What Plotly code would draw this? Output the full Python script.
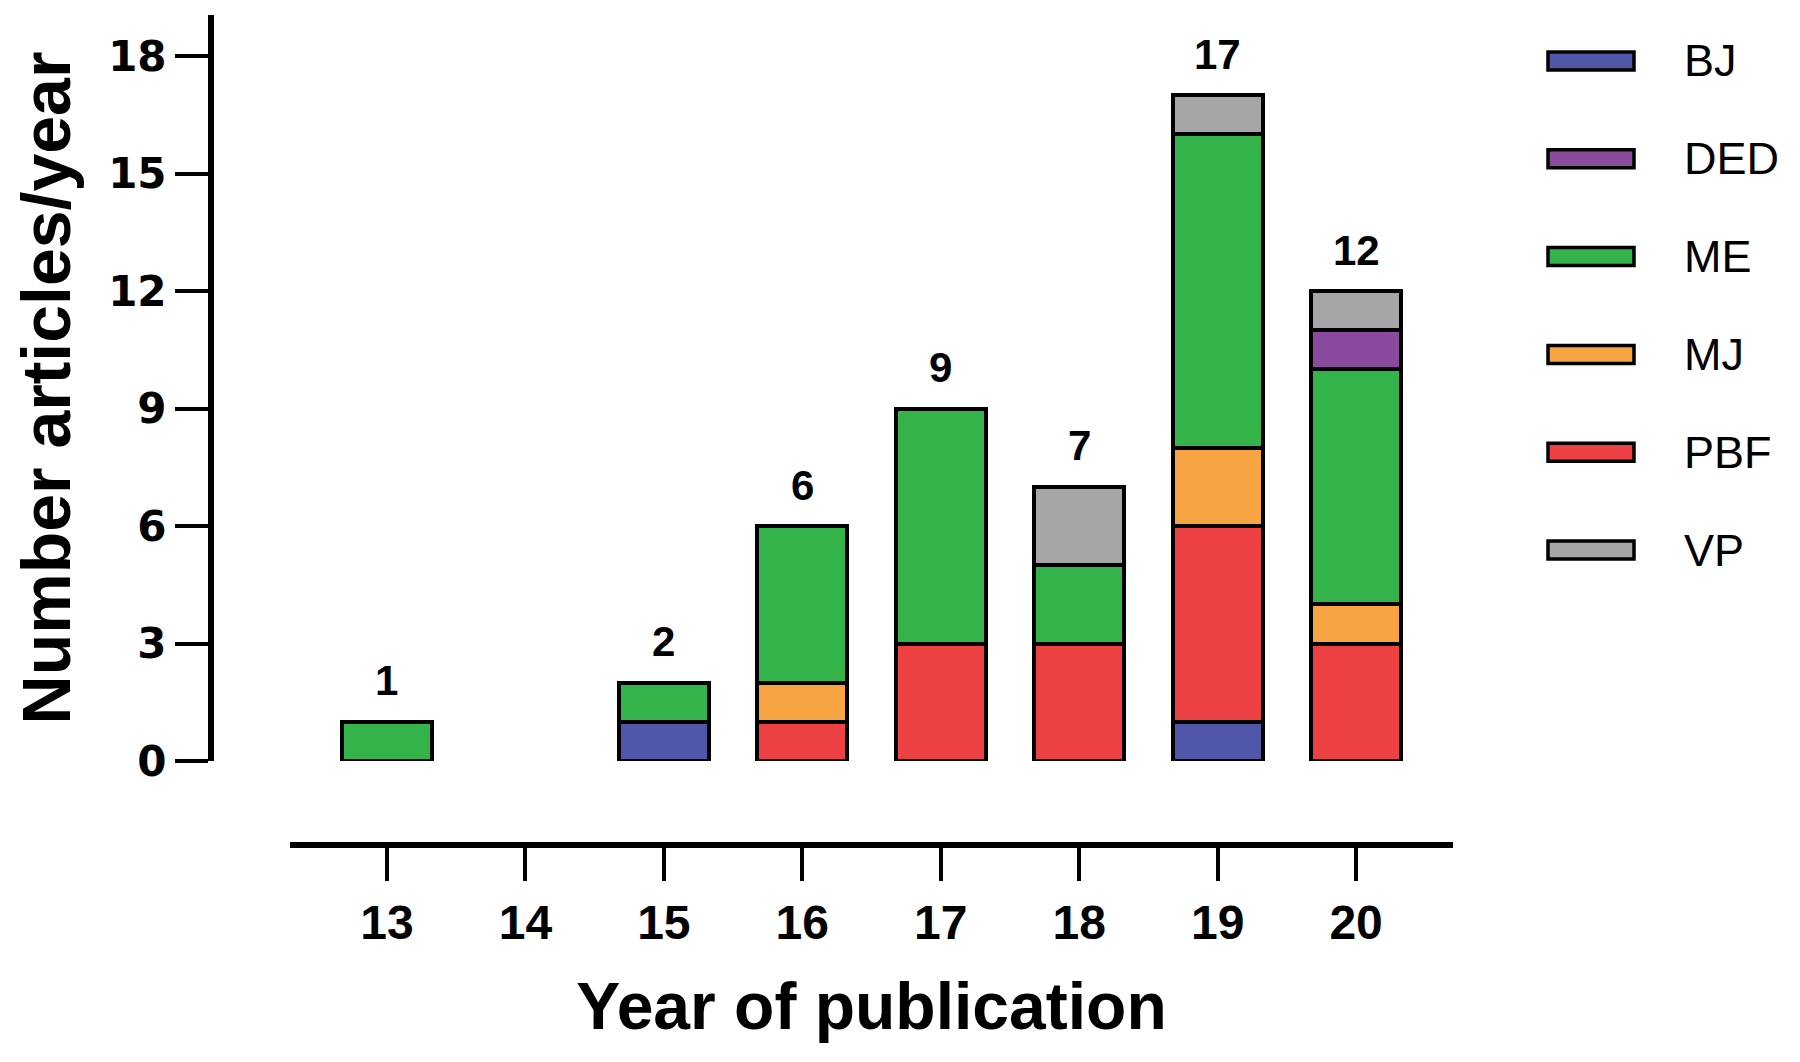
import plotly.graph_objects as go

years = [13, 14, 15, 16, 17, 18, 19, 20]
year_labels = ["13", "14", "15", "16", "17", "18", "19", "20"]
series_names = ["BJ", "DED", "ME", "MJ", "PBF", "VP"]
BJ = [0, 0, 1, 0, 0, 0, 1, 0]
DED = [0, 0, 0, 0, 0, 0, 0, 1]
ME = [1, 0, 1, 4, 6, 2, 8, 6]
MJ = [0, 0, 0, 1, 0, 0, 2, 1]
PBF = [0, 0, 0, 1, 3, 3, 5, 3]
VP = [0, 0, 0, 0, 0, 2, 1, 1]
y_ticks = [0, 3, 6, 9, 12, 15, 18]

values = {"BJ": BJ, "DED": DED, "ME": ME, "MJ": MJ, "PBF": PBF, "VP": VP}
colors = {"BJ": "#5157A8", "DED": "#8A4B9E", "ME": "#33B34A",
          "MJ": "#F7A443", "PBF": "#EE4144", "VP": "#A6A6A9"}
stack_order = ["BJ", "PBF", "MJ", "ME", "DED", "VP"]

W, H = 1800, 1062
ML, MR, MT, MB = 190, 330, 3, 225
PW = W - ML - MR
PH = H - MT - MB


def px_x(p):
    return (p - ML) / PW


def px_y(p):
    return (H - MB - p) / PH


fig = go.Figure()
for name in stack_order:
    fig.add_trace(go.Bar(
        x=years, y=[v if v else None for v in values[name]], name=name, width=0.65,
        marker=dict(color=colors[name], line=dict(color="black", width=4.5)),
        showlegend=False,
    ))

totals = [sum(values[n][i] for n in series_names) for i in range(len(years))]
annotations = []
for x, t in zip(years, totals):
    if t > 0:
        annotations.append(dict(
            x=x, y=t, xref="x", yref="y", text=str(t), showarrow=False,
            yanchor="middle", yshift=41,
            font=dict(family="Liberation Sans", size=42, color="black", weight="bold"),
        ))

shapes = []
for i, name in enumerate(series_names):
    cy = 53 + i * 97.8
    shapes.append(dict(
        type="rect", xref="paper", yref="paper",
        x0=px_x(1540), x1=px_x(1626), y0=px_y(cy + 9), y1=px_y(cy - 9),
        fillcolor=colors[name], line=dict(color="black", width=3.5),
    ))
    annotations.append(dict(
        x=px_x(1674), y=px_y(cy), xref="paper", yref="paper", text=name,
        showarrow=False, xanchor="left", yanchor="middle",
        font=dict(family="Liberation Sans", size=45, color="black"),
    ))

fig.update_layout(
    width=W, height=H,
    margin=dict(l=ML, r=MR, t=MT, b=MB, autoexpand=False),
    plot_bgcolor="white", paper_bgcolor="white",
    barmode="stack", bargap=0,
    shapes=shapes, annotations=annotations,
    xaxis=dict(
        domain=[px_x(282), px_x(1445)], range=[12.3, 20.7],
        anchor="free", position=0,
        tickmode="array", tickvals=years, ticktext=year_labels,
        ticks="outside", ticklen=33, tickwidth=4, tickcolor="black",
        showline=True, linewidth=6, linecolor="black",
        showgrid=False, zeroline=False,
        tickfont=dict(family="Liberation Sans Narrow, Liberation Sans", size=48,
                      color="black", weight="bold"),
        title=dict(text="Year of publication", standoff=34,
                   font=dict(family="Liberation Sans", size=66, color="black", weight="bold")),
    ),
    yaxis=dict(
        domain=[px_y(753), px_y(7)], range=[0, 19.05],
        anchor="free", position=px_x(203),
        tickmode="array", tickvals=y_ticks,
        ticks="outside", ticklen=33, tickwidth=4, tickcolor="black",
        showline=True, linewidth=6, linecolor="black",
        showgrid=False, zeroline=False,
        ticklabelstandoff=0,
        tickfont=dict(family="DejaVu Sans", size=42, color="black", weight="bold"),
        title=dict(text="Number articles/year", standoff=24,
                   font=dict(family="Liberation Sans", size=68, color="black", weight="bold")),
    ),
)

fig.write_html("out.html")
